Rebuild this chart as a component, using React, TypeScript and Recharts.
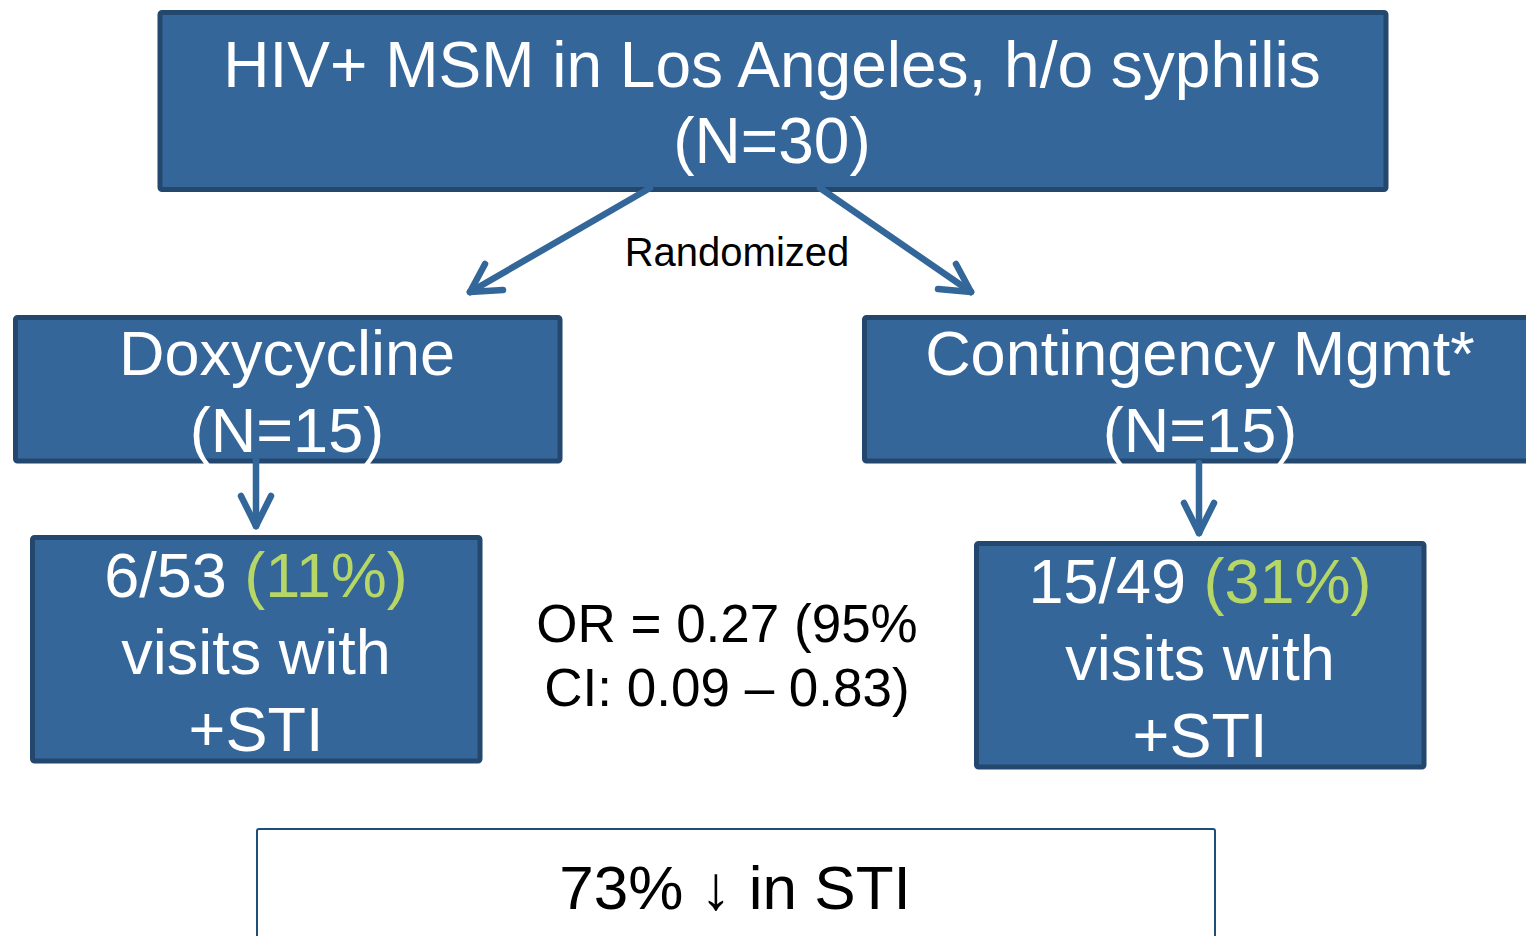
import React from 'react';
import { ComposedChart, XAxis, YAxis, ReferenceArea, ReferenceLine, ReferenceDot } from 'recharts';

const W = 1526;
const H = 936;
const FILL = '#346699';
const BORDER = '#24476E';
const ARROW = '#336699';
const GREEN = '#B6D765';
const WHITE = '#FFFFFF';
const BLACK = '#000000';
const FONT = '"Liberation Sans", Arial, sans-serif';

// Text content of the nodes
const titleLines = ['HIV+ MSM in Los Angeles, h/o syphilis', '(N=30)'];
const doxyLines = ['Doxycycline', '(N=15)'];
const cmLines = ['Contingency Mgmt*', '(N=15)'];
const doxyResult = { count: '6/53 ', pct: '(11%)', rest: ['visits with', '+STI'] };
const cmResult = { count: '15/49 ', pct: '(31%)', rest: ['visits with', '+STI'] };
const randomLabel = 'Randomized';
const orLines = ['OR = 0.27 (95%', 'CI: 0.09 \u2013 0.83)'];
const summaryLabel = '73% \u2193 in STI';

type Seg = { t: string; c: string };
type Line = Seg[];

const plain = (lines: string[], c: string): Line[] => lines.map((t) => [{ t, c }]);

// Layout (boxes, arrows, text anchors) in page pixels
const boxes = [
  { x1: 160, x2: 1386, y1: 12.5, y2: 189.5, fill: FILL, stroke: BORDER, sw: 5 },
  { x1: 15.5, x2: 560, y1: 317.5, y2: 461, fill: FILL, stroke: BORDER, sw: 5 },
  { x1: 864.5, x2: 1540, y1: 317.5, y2: 461, fill: FILL, stroke: BORDER, sw: 5 },
  { x1: 32.5, x2: 480, y1: 537.5, y2: 761, fill: FILL, stroke: BORDER, sw: 5 },
  { x1: 976.5, x2: 1424, y1: 543.5, y2: 767, fill: FILL, stroke: BORDER, sw: 5 },
  { x1: 257, x2: 1215, y1: 829, y2: 960, fill: WHITE, stroke: '#1F4E7A', sw: 2 },
];

const arrows: [number, number, number, number][] = [
  [650, 188, 470, 292],
  [485, 264, 470, 292],
  [503, 290, 470, 292],
  [820, 188, 971, 292],
  [956, 264, 971, 292],
  [938, 289, 971, 292],
  [256, 458, 256, 526],
  [241, 496, 256, 526],
  [271, 496, 256, 526],
  [1199, 463, 1199, 533],
  [1184, 503, 1199, 533],
  [1214, 503, 1199, 533],
];

const texts = [
  { x: 772, y: 87, size: 64, gap: 76, lines: plain(titleLines, WHITE) },
  { x: 287, y: 375, size: 63, gap: 77, lines: plain(doxyLines, WHITE) },
  { x: 1200, y: 375, size: 63, gap: 77, lines: plain(cmLines, WHITE) },
  {
    x: 256, y: 597, size: 63, gap: 77,
    lines: [[{ t: doxyResult.count, c: WHITE }, { t: doxyResult.pct, c: GREEN }], ...plain(doxyResult.rest, WHITE)],
  },
  {
    x: 1200, y: 603, size: 63, gap: 77,
    lines: [[{ t: cmResult.count, c: WHITE }, { t: cmResult.pct, c: GREEN }], ...plain(cmResult.rest, WHITE)],
  },
  { x: 737, y: 266, size: 40, gap: 0, lines: plain([randomLabel], BLACK) },
  { x: 727, y: 642, size: 53, gap: 64, lines: plain(orLines, BLACK) },
  { x: 735, y: 909, size: 62, gap: 0, lines: plain([summaryLabel], BLACK) },
];

const makeLabel = (node: { size: number; gap: number; lines: Line[] }) => (props: any) => {
  const vb = props.viewBox || { x: 0, y: 0, width: 0, height: 0 };
  const cx = vb.x + vb.width / 2;
  const cy = vb.y + vb.height / 2;
  return (
    <text textAnchor="middle" fontFamily={FONT} fontSize={node.size}>
      {node.lines.map((line, i) => (
        <tspan key={i} x={cx} y={cy + i * node.gap}>
          {line.map((seg, j) => (
            <tspan key={j} fill={seg.c}>{seg.t}</tspan>
          ))}
        </tspan>
      ))}
    </text>
  );
};

export default function App() {
  return (
    <div style={{ position: 'absolute', left: 0, top: 0, width: W, height: H, background: '#fff' }}>
      <ComposedChart width={W} height={H} margin={{ top: 0, right: 0, bottom: 0, left: 0 }} data={[{ x: 0, y: 0 }]}>
        <XAxis type="number" dataKey="x" domain={[0, W]} hide allowDataOverflow />
        <YAxis type="number" dataKey="y" domain={[0, H]} reversed hide allowDataOverflow width={0} />
        {boxes.map((b, i) => (
          <ReferenceArea
            key={`b${i}`}
            x1={b.x1}
            x2={b.x2}
            y1={b.y1}
            y2={b.y2}
            fill={b.fill}
            fillOpacity={1}
            stroke={b.stroke}
            strokeWidth={b.sw}
            ifOverflow="visible"
            radius={2}
          />
        ))}
        {arrows.map((a, i) => (
          <ReferenceLine
            key={`a${i}`}
            segment={[{ x: a[0], y: a[1] }, { x: a[2], y: a[3] }]}
            stroke={ARROW}
            strokeWidth={6.5}
            strokeLinecap="round"
            ifOverflow="visible"
          />
        ))}
        {texts.map((t, i) => (
          <ReferenceDot
            key={`t${i}`}
            x={t.x}
            y={t.y}
            r={0}
            ifOverflow="visible"
            shape={() => <g />}
            label={{ content: makeLabel(t) }}
          />
        ))}
      </ComposedChart>
    </div>
  );
}
